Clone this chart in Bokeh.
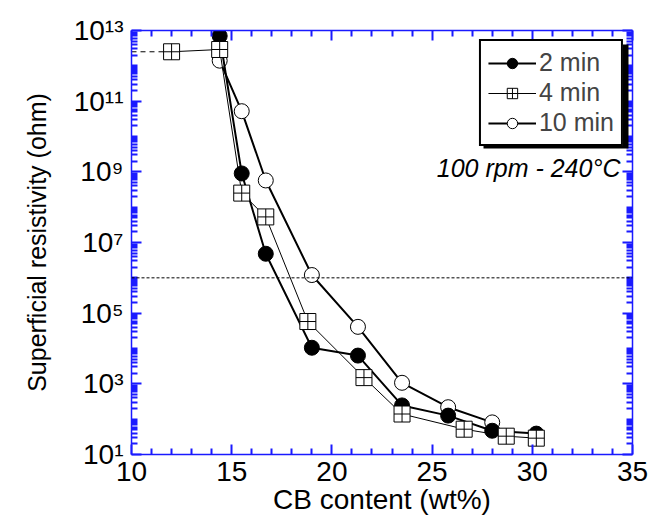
from bokeh.plotting import figure
from bokeh.models import (LogAxis, LinearAxis, FixedTicker, CustomJSTickFormatter,
                          Span, Label, Legend, LegendItem, BoxAnnotation)
from bokeh.embed import file_html
from bokeh.resources import INLINE

# Surface resistivity vs carbon-black content for three mixing times
cb_2min = [14.4, 15.5, 16.7, 19.0, 21.3, 23.5, 25.8, 28.0, 30.2]
res_2min = [7e12, 9e8, 4.8e6, 1.05e4, 6.3e3, 245, 126, 47, 39]

cb_4min = [12.0, 14.4, 15.5, 16.7, 18.8, 21.6, 23.5, 26.6, 28.7, 30.2]
res_4min = [2.5e12, 2.9e12, 2.5e8, 5.3e7, 5.8e4, 1.5e3, 140, 52, 33, 29]

cb_10min = [14.4, 15.5, 16.7, 19.0, 21.3, 23.5, 25.8, 28.0]
res_10min = [1.4e12, 5.2e10, 5.7e8, 1.2e6, 4.1e4, 1.07e3, 218, 81]

threshold = 1e6
x_ticks = [10, 15, 20, 25, 30, 35]
x_minor = [v for v in range(10, 36) if v % 5]
y_ticks = [10 ** e for e in range(1, 14, 2)]
y_minor = [m * 10 ** e for e in range(1, 13) for m in range(2, 10)] + \
          [10 ** e for e in range(2, 13, 2)]

FONT = "Liberation Sans"
BLUE = "#1a1aff"

p = figure(width=662, height=526, x_range=(10, 35), y_range=(10, 1e13),
           y_axis_type="log", output_backend="svg", toolbar_location=None,
           min_border_left=131, min_border_right=30, min_border_top=30,
           min_border_bottom=72)
p.grid.visible = False
p.outline_line_color = None
p.background_fill_color = "white"
p.border_fill_color = "white"

sup_code = """
const sup = {'0':'\u2070','1':'\u00b9','2':'\u00b2','3':'\u00b3','4':'\u2074',
             '5':'\u2075','6':'\u2076','7':'\u2077','8':'\u2078','9':'\u2079','-':'\u207b'};
const e = Math.round(Math.log10(tick));
return '10' + String(e).split('').map(c => sup[c]).join('');
"""
blank = CustomJSTickFormatter(code="return ''")


def style_axis(ax):
    ax.axis_line_color = BLUE
    ax.axis_line_width = 1.5
    ax.major_tick_line_color = BLUE
    ax.minor_tick_line_color = BLUE
    ax.major_tick_line_width = 2
    ax.minor_tick_line_width = 2
    ax.major_tick_in = 10
    ax.major_tick_out = 0
    ax.minor_tick_in = 6
    ax.minor_tick_out = 0
    ax.major_label_text_font = FONT
    ax.major_label_text_font_size = "28px"
    ax.major_label_text_color = "black"
    ax.axis_label_text_font = FONT
    ax.axis_label_text_font_size = "28px"
    ax.axis_label_text_font_style = "normal"
    ax.axis_label_text_color = "black"


xt = FixedTicker(ticks=x_ticks, minor_ticks=x_minor)
yt = FixedTicker(ticks=y_ticks, minor_ticks=y_minor)

xa = p.xaxis[0]
xa.ticker = xt
xa.axis_label = "CB content (wt%)"
xa.major_label_standoff = 7
xa.axis_label_standoff = 0
style_axis(xa)

ya = p.yaxis[0]
ya.ticker = yt
ya.formatter = CustomJSTickFormatter(code=sup_code)
ya.axis_label = "Superficial resistivity (ohm)"
ya.major_label_standoff = 8
ya.axis_label_standoff = 20
style_axis(ya)
ya.axis_label_text_font_size = "25px"

top = LinearAxis(ticker=xt, formatter=blank, major_label_standoff=0)
style_axis(top)
right = LogAxis(ticker=yt, formatter=blank, major_label_standoff=0)
style_axis(right)
p.add_layout(top, "above")
p.add_layout(right, "right")

# percolation threshold guide
p.add_layout(Span(location=threshold, dimension="width", line_color="black",
                  line_width=1, line_dash="3 2"))

# dashed extension of the first 4 min point to the axis
p.line([10, cb_4min[0]], [res_4min[0], res_4min[0]], line_color="black",
       line_width=1, line_dash="5 4")

l10 = p.line(cb_10min, res_10min, line_color="black", line_width=2)
s10 = p.scatter(cb_10min, res_10min, marker="circle", size=15,
                fill_color="white", line_color="black", line_width=1)

l2 = p.line(cb_2min, res_2min, line_color="black", line_width=2)
s2 = p.scatter(cb_2min, res_2min, marker="circle", size=15,
               fill_color="black", line_color="black")

l4 = p.line(cb_4min, res_4min, line_color="black", line_width=1)
s4 = p.scatter(cb_4min, res_4min, marker="square_cross", size=16,
               fill_color="white", line_color="black", line_width=1)

# drop shadow behind the legend box (frame-relative screen units, y from bottom)
p.add_layout(BoxAnnotation(left=352, right=497, top=410, bottom=306,
                           left_units="screen", right_units="screen",
                           top_units="screen", bottom_units="screen",
                           fill_color="black", fill_alpha=1,
                           line_color=None))

legend = Legend(items=[LegendItem(label="2 min", renderers=[l2, s2]),
                       LegendItem(label="4 min", renderers=[l4, s4]),
                       LegendItem(label="10 min", renderers=[l10, s10])],
                location="top_right", label_text_font=FONT,
                label_text_font_size="25px", glyph_width=48, glyph_height=26,
                label_height=26, spacing=1, padding=7, margin=9,
                label_standoff=3, border_line_color="black",
                border_line_width=2, border_line_alpha=1,
                background_fill_color="white", background_fill_alpha=1)
p.add_layout(legend)

p.add_layout(Label(x=34.4, y=1.3e9, text="100 rpm - 240\u00b0C",
                   text_font=FONT, text_font_size="25px",
                   text_font_style="italic", text_align="right",
                   text_baseline="middle", text_color="black"))

open("out.html", "w").write(file_html(p, INLINE))
